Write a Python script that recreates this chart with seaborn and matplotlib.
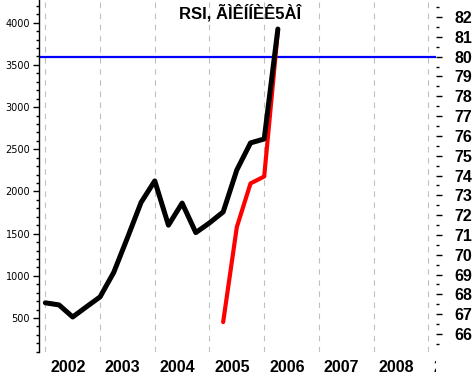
import numpy as np
import pandas as pd
import seaborn as sns
import matplotlib.pyplot as plt
from matplotlib.ticker import MultipleLocator
from matplotlib.transforms import Bbox

# quarterly points, price (left axis) and RSI (right axis)
quarters = [2002.0, 2002.25, 2002.5, 2002.75, 2003.0, 2003.25, 2003.5, 2003.75,
            2004.0, 2004.25, 2004.5, 2004.75, 2005.0, 2005.25, 2005.5, 2005.75,
            2006.0, 2006.25]
price = [680, 655, 512, 632, 750, 1040, 1450, 1870,
         2125, 1600, 1862, 1512, 1627, 1757, 2255, 2575,
         2622, 3925]
rsi_quarters = [2005.25, 2005.5, 2005.75, 2006.0, 2006.25]
rsi = [66.6, 71.4, 73.6, 73.95, 81.3]
rsi_level = 80
years = [2002, 2003, 2004, 2005, 2006, 2007, 2008, 2009]
title = "RSI, ÃÌÊÍÍÈÊ5ÀÎ"

price_df = pd.DataFrame({"t": quarters, "price": price})
rsi_df = pd.DataFrame({"t": rsi_quarters, "rsi": rsi})

sns.set_style("white")
plt.rcParams['font.family'] = ['Liberation Sans', 'DejaVu Sans']
plt.rcParams['text.color'] = 'black'
plt.rcParams['xtick.color'] = 'black'
plt.rcParams['ytick.color'] = 'black'
plt.rcParams['xtick.labelcolor'] = 'black'
plt.rcParams['ytick.labelcolor'] = 'black'

W, H = 473, 377
fig = plt.figure(figsize=(W / 100, H / 100), dpi=100)
ax = fig.add_axes([38.5 / W, 25 / H, (436 - 38.5) / W, 352 / H])
ax2 = ax.twinx()

# back axis: gridlines, RSI line and 80 level
ax2.set_ylim(65.09, 82.86)
ax2.xaxis.set_visible(True)
ax2.set_xticks(years)
ax2.tick_params(axis='x', length=0, labelbottom=False)
ax2.grid(axis='x', color='#c0c0c0', linestyle=(0, (5, 5)), linewidth=0.8)
ax2.set_axisbelow(True)
ax2.axhline(rsi_level, color='#0000ff', linewidth=1.6, zorder=2)
sns.lineplot(data=rsi_df, x="t", y="rsi", ax=ax2, color='#ff0000',
             linewidth=3.0, zorder=3)
ax2.yaxis.set_major_locator(MultipleLocator(1))
ax2.yaxis.set_minor_locator(MultipleLocator(0.5))
ax2.tick_params(axis='y', which='major', length=4, width=1, pad=9,
                labelsize=11.5, color='black')
ax2.tick_params(axis='y', which='minor', length=2.2, width=1, color='black')
for lab in ax2.get_yticklabels():
    lab.set_fontweight('bold')
ax2.set_xlabel("")
ax2.set_ylabel("")

# front axis: price line
ax.set_zorder(ax2.get_zorder() + 1)
ax.patch.set_visible(False)
sns.lineplot(data=price_df, x="t", y="price", ax=ax, color='black',
             linewidth=3.6, zorder=4)
ax.set_xlim(2001.875, 2009.14)
ax.set_ylim(97, 4269)
ax.yaxis.set_major_locator(MultipleLocator(500))
ax.yaxis.set_minor_locator(MultipleLocator(100))
ax.tick_params(axis='y', which='major', length=4, width=1, pad=2,
               labelsize=7, color='black')
ax.tick_params(axis='y', which='minor', length=2.2, width=1, color='black')
for lab in ax.get_yticklabels():
    lab.set_fontfamily('DejaVu Sans')
ax.set_xticks(years)
ax.xaxis.set_minor_locator(MultipleLocator(0.25))
ax.tick_params(axis='x', which='major', length=17.5, width=1, color='black',
               labelbottom=False)
ax.tick_params(axis='x', which='minor', length=4, width=1, color='black')
ax.set_xlabel("")
ax.set_ylabel("")

for a in (ax, ax2):
    for side in ('top', 'right', 'bottom'):
        a.spines[side].set_visible(False)
ax2.spines['left'].set_visible(False)
ax.spines['left'].set_color('black')
ax.spines['left'].set_linewidth(1)

clip = Bbox([[0, 0], [436, H]])
for y in years:
    t = ax.text(y + 0.09, -15 / 352, str(y), transform=ax.get_xaxis_transform(),
                ha='left', va='center', fontsize=11.5, fontweight='bold',
                color='black')
    t.set_clip_on(True)
    t.set_clip_box(clip)

fig.text(240 / W, 1 - 13 / H, title, ha='center', va='center',
         fontsize=12, fontweight='bold', color='black')

fig.savefig("out.png", dpi=100, facecolor='white')
